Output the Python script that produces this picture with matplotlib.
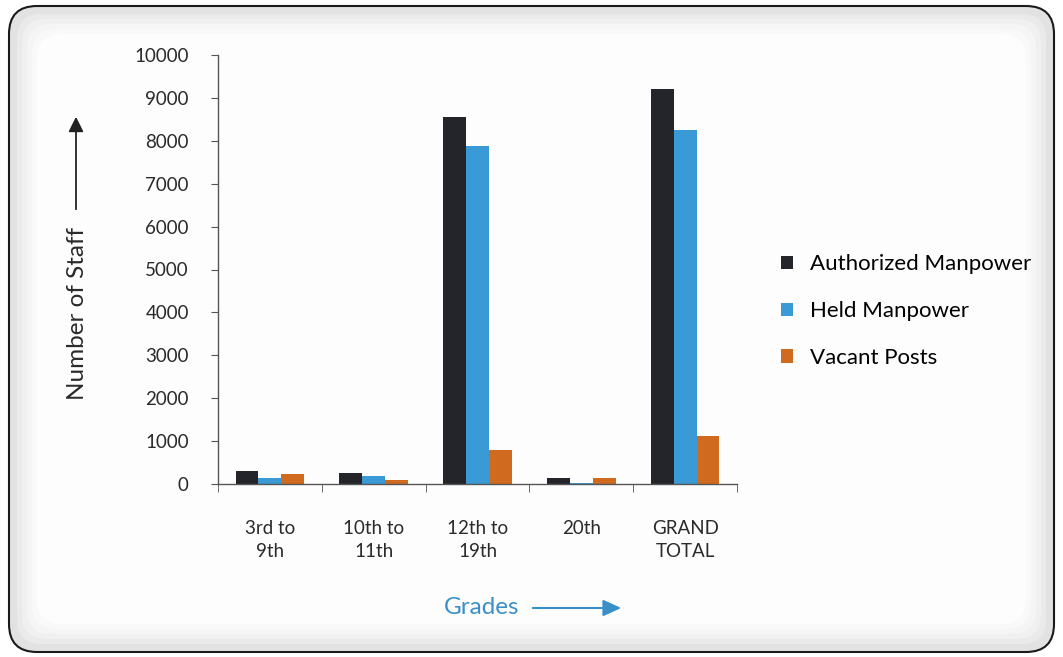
import numpy as np
import matplotlib.pyplot as plt
from matplotlib.patches import FancyBboxPatch, FancyArrowPatch

# Data
grades = ["3rd to\n9th", "10th to\n11th", "12th to\n19th", "20th", "GRAND\nTOTAL"]
authorized = [300, 260, 8550, 150, 9200]
held = [130, 190, 7870, 15, 8250]
vacant = [230, 95, 800, 130, 1120]
series_names = ["Authorized Manpower", "Held Manpower", "Vacant Posts"]
colors = ["#24252b", "#3a9ad6", "#cf6a1f"]

plt.rcParams["font.family"] = ["Lato", "DejaVu Sans"]

fig = plt.figure(figsize=(10.63, 6.57), dpi=100)

# Rounded frame with greyish border shading
bg = fig.add_axes([0, 0, 1, 1])
bg.set_xlim(0, 1063)
bg.set_ylim(657, 0)
bg.axis("off")
outer = FancyBboxPatch((9, 6), 1045, 646, boxstyle="round,pad=0,rounding_size=28",
                       facecolor="#e2e2e2", edgecolor="#1a1a1a", linewidth=1.5)
bg.add_patch(outer)
for i, c in enumerate(["#eaeaea", "#f0f0f0", "#f5f5f5", "#f9f9f9", "#fdfdfd"]):
    p = 8 + 5 * i
    bg.add_patch(FancyBboxPatch((9 + p, 6 + p), 1045 - 2 * p, 646 - 2 * p,
                                boxstyle="round,pad=0,rounding_size=24",
                                facecolor=c, edgecolor="none"))

# Axis titles with arrows
bg.text(77, 313, "Number of Staff", rotation=90, ha="center", va="center",
        fontsize=17.5, color="#2a2a2a")
bg.add_patch(FancyArrowPatch((76, 212), (76, 114), arrowstyle="-|>,head_length=9,head_width=4.5",
                             color="#222222", linewidth=1.3))
bg.text(482, 607, "Grades", ha="center", va="center", fontsize=17.5, color="#3a8fc8")
bg.add_patch(FancyArrowPatch((530, 608), (624, 608), arrowstyle="-|>,head_length=11,head_width=5",
                             color="#3a8fc8", linewidth=1.5))

ax = fig.add_axes([218 / 1063, 1 - 484 / 657, (737 - 218) / 1063, (484 - 55) / 657])
ax.patch.set_alpha(0)
x = np.arange(len(grades))
w = 0.22
for k, (vals, name, col) in enumerate(zip([authorized, held, vacant], series_names, colors)):
    ax.bar(x + (k - 1) * w, vals, width=w, color=col, label=name)

ax.set_xlim(-0.5, len(grades) - 0.5)
ax.set_ylim(0, 10000)
ax.set_yticks(np.arange(0, 10001, 1000))
ax.set_xticks(x)
ax.set_xticklabels(grades, fontsize=13.5, color="#2a2a2a", linespacing=1.45)
ax.set_xticks(np.arange(-0.5, len(grades), 1), minor=True)
ax.tick_params(axis="x", which="major", length=0, pad=26)
ax.tick_params(axis="x", which="minor", length=6, color="#555555", direction="out")
ax.tick_params(axis="y", length=5, color="#555555", labelsize=13.5, labelcolor="#2a2a2a", pad=16)
for s in ["top", "right"]:
    ax.spines[s].set_visible(False)
for s in ["left", "bottom"]:
    ax.spines[s].set_color("#555555")
    ax.spines[s].set_linewidth(1)

ax.legend(loc="center left", bbox_to_anchor=(1.085, 0.403), frameon=False, fontsize=16,
          handlelength=0.55, handleheight=0.55, labelspacing=1.2, handletextpad=0.75,
          borderpad=0, borderaxespad=0)

fig.savefig("out.png", dpi=100)
